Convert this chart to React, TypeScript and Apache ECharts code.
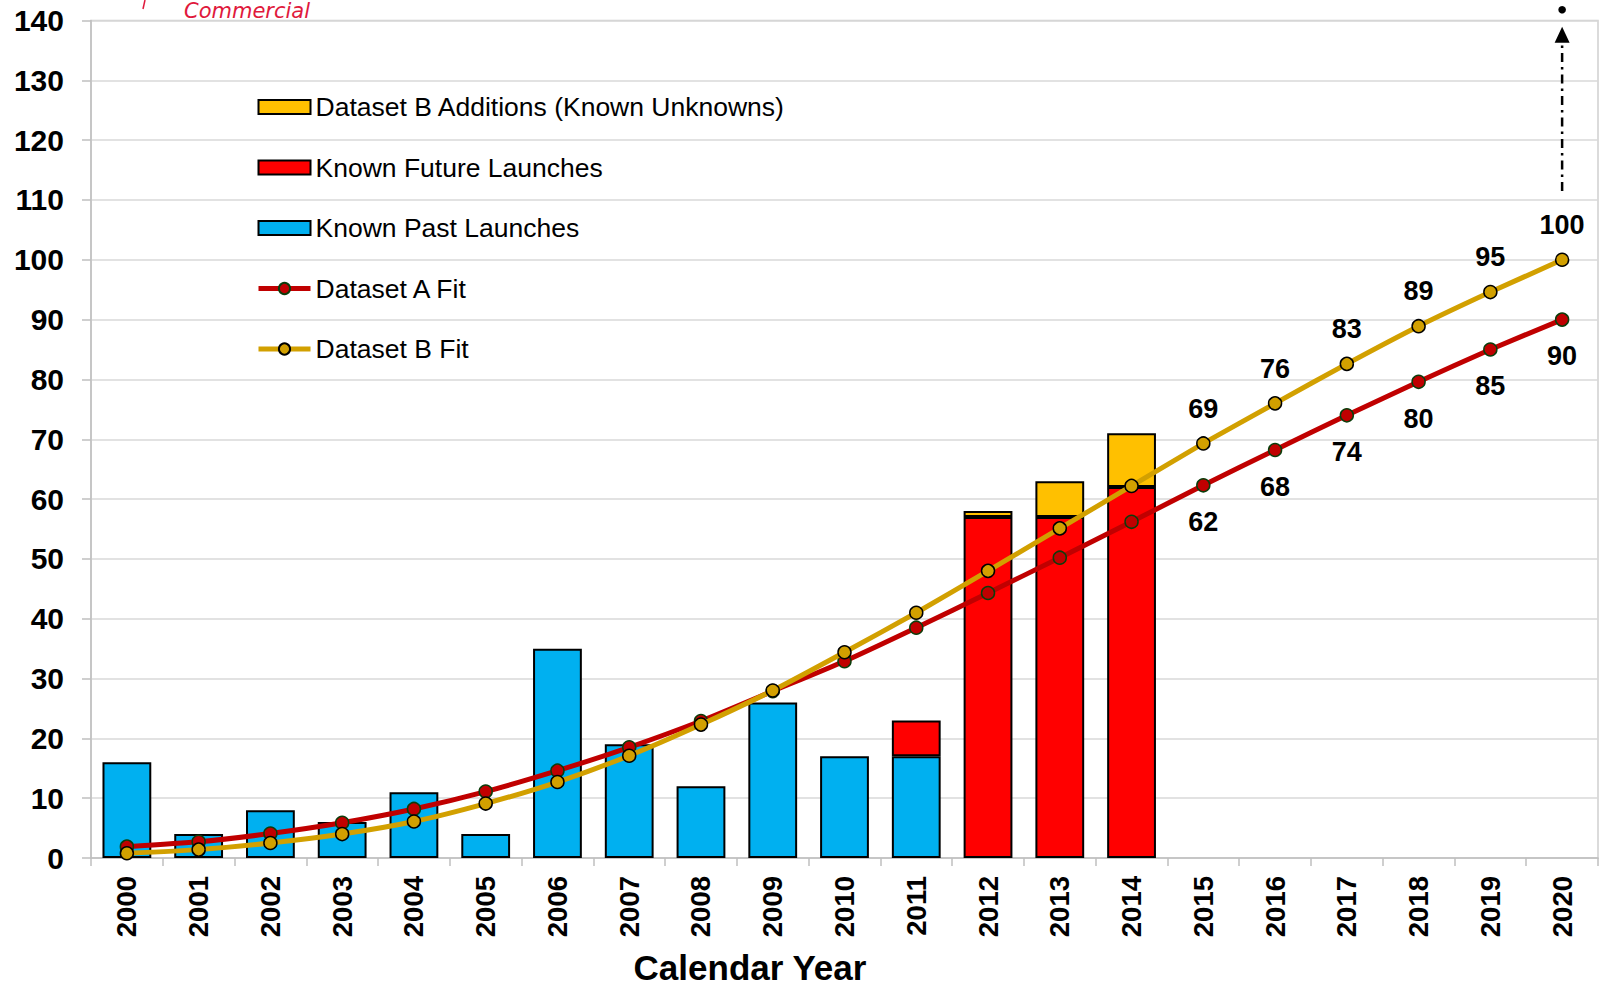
import React, { useEffect, useRef } from "react";
import * as echarts from "echarts";

const years = [
  "2000", "2001", "2002", "2003", "2004", "2005", "2006", "2007", "2008", "2009", "2010",
  "2011", "2012", "2013", "2014", "2015", "2016", "2017", "2018", "2019", "2020",
];
const knownPast = [16, 4, 8, 6, 11, 4, 35, 19, 12, 26, 17, 17, null, null, null, null, null, null, null, null, null];
const knownFuture = [null, null, null, null, null, null, null, null, null, null, null, 6, 57, 57, 62, null, null, null, null, null, null];
const datasetBAdditions = [null, null, null, null, null, null, null, null, null, null, null, null, 1, 6, 9, null, null, null, null, null, null];
const datasetAFit = [1.9, 2.7, 4.1, 5.9, 8.2, 11.1, 14.6, 18.5, 22.9, 27.9, 32.9, 38.5, 44.3, 50.2, 56.2, 62.3, 68.2, 74.0, 79.6, 85.0, 90.0];
const datasetBFit = [0.8, 1.4, 2.5, 4.0, 6.1, 9.1, 12.7, 17.1, 22.3, 28.0, 34.4, 41.0, 48.0, 55.1, 62.2, 69.3, 76.0, 82.6, 88.9, 94.6, 100.0];
const yTicks = { min: 0, max: 140, interval: 10 };
// arrow annotation at 2020: [line start, arrow base, arrow tip, dot]
const arrowValues = [111.5, 136.3, 138.8, 141.8];
const labelFromIndex = 15;

const FONT = "'Liberation Sans', Arial, sans-serif";

export default function App() {
  const ref = useRef<HTMLDivElement>(null);
  useEffect(() => {
    if (!ref.current) return;
    const chart = echarts.init(ref.current, undefined, { renderer: "svg" });
    const names = {
      add: "Dataset B Additions (Known Unknowns)",
      fut: "Known Future Launches",
      past: "Known Past Launches",
      a: "Dataset A Fit",
      b: "Dataset B Fit",
    };
    const barCommon = {
      type: "bar",
      stack: "total",
      barWidth: "68%",
      itemStyle: { borderColor: "#000", borderWidth: 2 },
    };
    const dataLabel = {
      show: true,
      fontSize: 27,
      fontWeight: "bold",
      color: "#000",
      fontFamily: FONT,
      formatter: (p: any) => (p.dataIndex >= labelFromIndex ? String(Math.round(p.value)) : ""),
    };
    chart.setOption({
      animation: false,
      textStyle: { fontFamily: FONT },
      grid: {
        left: 91,
        right: 10,
        top: 20.5,
        bottom: 128,
        show: true,
        borderColor: "#D0D0D0",
        borderWidth: 1.5,
      },
      legend: {
        orient: "vertical",
        left: 251,
        top: 87,
        itemWidth: 52,
        itemHeight: 14,
        itemGap: 30.5,
        itemTextGap: 6,
        data: [
          { name: names.add, icon: "rect" },
          { name: names.fut, icon: "rect" },
          { name: names.past, icon: "rect" },
          { name: names.a, lineStyle: { width: 5 } },
          { name: names.b, lineStyle: { width: 5 } },
        ],
        textStyle: { fontSize: 26.5, color: "#000", fontFamily: FONT, lineHeight: 30 },
      },
      xAxis: {
        type: "category",
        data: years,
        axisLine: { lineStyle: { color: "#BFBFBF", width: 1.5 } },
        axisTick: { show: true, length: 8, lineStyle: { color: "#BFBFBF", width: 1.5 } },
        axisLabel: {
          rotate: 90,
          margin: 18,
          fontSize: 27.5,
          fontWeight: "bold",
          color: "#000",
          fontFamily: FONT,
        },
      },
      yAxis: {
        type: "value",
        min: yTicks.min,
        max: yTicks.max,
        interval: yTicks.interval,
        axisLine: { show: true, lineStyle: { color: "#BFBFBF", width: 1.5 } },
        axisTick: { show: true, length: 9, lineStyle: { color: "#BFBFBF", width: 1.5 } },
        splitLine: { lineStyle: { color: "#D9D9D9", width: 1.5 } },
        axisLabel: {
          margin: 27,
          fontSize: 30,
          fontWeight: "bold",
          color: "#000",
          fontFamily: FONT,
        },
      },
      series: [
        { ...barCommon, name: names.past, data: knownPast, itemStyle: { ...barCommon.itemStyle, color: "#00B0F0" } },
        { ...barCommon, name: names.fut, data: knownFuture, itemStyle: { ...barCommon.itemStyle, color: "#FF0000" } },
        { ...barCommon, name: names.add, data: datasetBAdditions, itemStyle: { ...barCommon.itemStyle, color: "#FFC000" } },
        {
          type: "line",
          name: names.a,
          data: datasetAFit,
          smooth: 0.2,
          symbol: "circle",
          symbolSize: 13,
          z: 5,
          lineStyle: { color: "#C00000", width: 5 },
          itemStyle: { color: "#C00000", borderColor: "#0B3D0B", borderWidth: 1.5 },
          label: { ...dataLabel, position: "bottom", distance: 16 },
        },
        {
          type: "line",
          name: names.b,
          data: datasetBFit,
          smooth: 0.2,
          symbol: "circle",
          symbolSize: 13,
          z: 6,
          lineStyle: { color: "#D2A000", width: 5 },
          itemStyle: { color: "#D2A000", borderColor: "#000", borderWidth: 1.5 },
          label: { ...dataLabel, position: "top", distance: 14 },
        },
      ],
    });

    const lastYear = years[years.length - 1];
    const px = (v: number) => chart.convertToPixel({ gridIndex: 0 }, [lastYear, v]) as number[];
    const pStart = px(arrowValues[0]);
    const pBase = px(arrowValues[1]);
    const pTip = px(arrowValues[2]);
    const pDot = px(arrowValues[3]);
    const x = pStart[0];

    chart.setOption({
      graphic: [
        {
          type: "text",
          x: 750,
          y: 950,
          style: {
            text: "Calendar Year",
            font: `bold 35px ${FONT}`,
            fill: "#000",
            align: "center",
            verticalAlign: "top",
          },
        },
        {
          type: "text",
          x: 184,
          y: 0,
          style: {
            text: "Commercial",
            font: `italic 21px 'DejaVu Sans', sans-serif`,
            fill: "#E0193C",
            verticalAlign: "top",
          },
        },
        {
          type: "line",
          shape: { x1: 145, y1: 0, x2: 143, y2: 9 },
          style: { stroke: "#E0193C", lineWidth: 1.5 },
        },
        {
          type: "line",
          shape: { x1: x, y1: pStart[1], x2: x, y2: pBase[1] },
          style: { stroke: "#000", lineWidth: 2.5, lineDash: [9, 5, 2.5, 5] },
          z: 10,
        },
        {
          type: "polygon",
          shape: { points: [[x, pTip[1] - 1], [x - 7.5, pBase[1]], [x + 7.5, pBase[1]]] },
          style: { fill: "#000" },
          z: 10,
        },
        {
          type: "circle",
          shape: { cx: x, cy: pDot[1], r: 3.8 },
          style: { fill: "#000" },
          z: 10,
        },
      ],
    });

    return () => chart.dispose();
  }, []);
  return (
    <div
      ref={ref}
      style={{ position: "absolute", left: 0, top: 0, width: 1608, height: 986, background: "#fff" }}
    />
  );
}
